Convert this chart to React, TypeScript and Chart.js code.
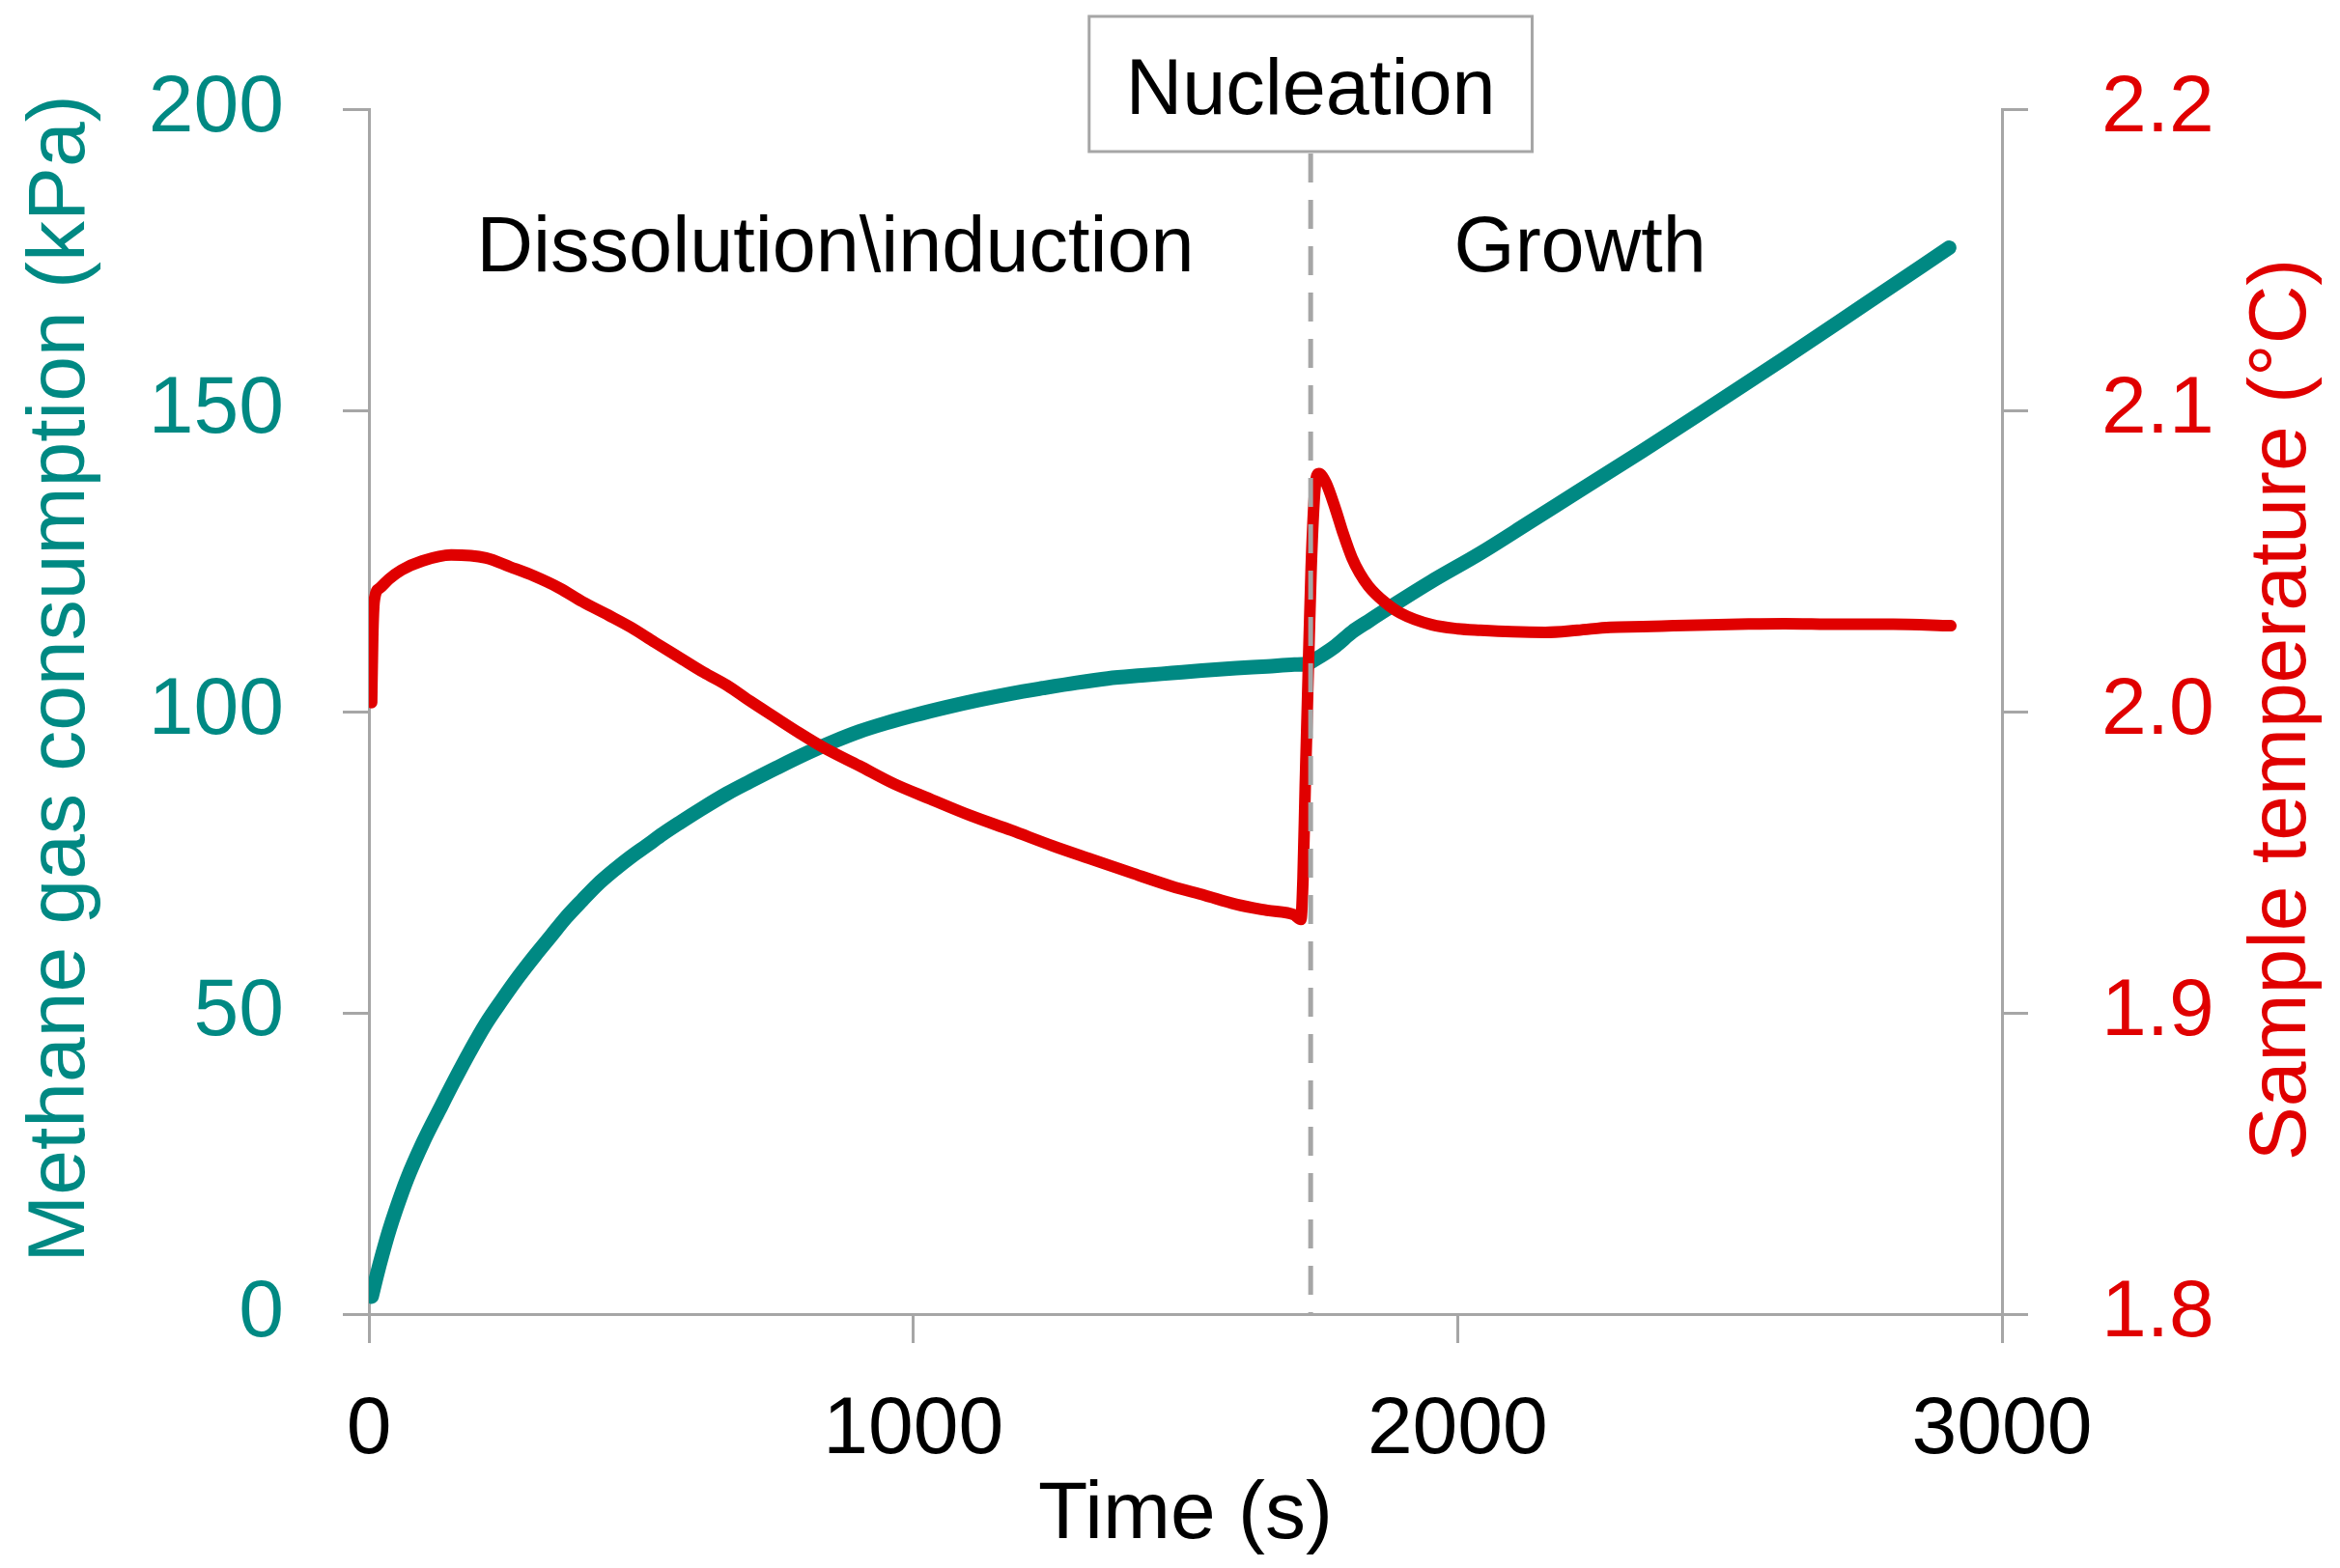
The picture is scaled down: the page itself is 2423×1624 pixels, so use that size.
import React, { useEffect, useRef } from "react";
import { Chart, registerables } from "chart.js";

Chart.register(...registerables);

// ---- Data ----
const gasTime = [5, 15, 25, 37, 50, 70, 100, 130, 156, 185, 215, 245, 275, 305, 334, 362, 392, 420, 452, 480, 511, 540, 570, 610, 658, 700, 750, 807, 850, 901, 950, 1002, 1060, 1119, 1180, 1238, 1300, 1357, 1420, 1475, 1530, 1593, 1650, 1700, 1723, 1735, 1750, 1776, 1806, 1836, 1865, 1950, 2042, 2130, 2219, 2340, 2468, 2600, 2750, 2903];
const gasKPa = [2.9, 6.6, 10.0, 13.8, 17.4, 22.4, 28.6, 34.0, 38.6, 43.5, 48.2, 52.2, 56, 59.5, 62.7, 65.8, 68.7, 71.3, 73.8, 75.8, 77.8, 79.7, 81.5, 83.8, 86.4, 88.4, 90.7, 93.2, 94.9, 96.7, 98.1, 99.4, 100.7, 101.9, 103, 103.9, 104.8, 105.5, 106, 106.4, 106.8, 107.2, 107.5, 107.8, 107.9, 108.5, 109.3, 110.9, 113.2, 115, 116.7, 121.5, 126.3, 131.3, 136.4, 143.3, 150.8, 158.6, 167.7, 177];

const tempTime = [5, 7, 10, 20, 37, 60, 98, 151, 215, 260, 303, 350, 392, 440, 481, 525, 570, 615, 658, 700, 747, 790, 836, 901, 965, 1031, 1105, 1180, 1255, 1327, 1400, 1475, 1535, 1593, 1650, 1700, 1712, 1716, 1720, 1726, 1731, 1738, 1745, 1758, 1776, 1790, 1806, 1820, 1836, 1865, 1895, 1953, 2000, 2042, 2100, 2161, 2220, 2280, 2340, 2397, 2460, 2516, 2600, 2700, 2800, 2906];
const tempC = [2.003, 2.025, 2.037, 2.041, 2.044, 2.047, 2.05, 2.052, 2.051, 2.048, 2.045, 2.041, 2.0365, 2.032, 2.028, 2.023, 2.018, 2.013, 2.0087, 2.0035, 1.998, 1.993, 1.988, 1.982, 1.976, 1.971, 1.9655, 1.9606, 1.9555, 1.951, 1.9465, 1.942, 1.939, 1.936, 1.934, 1.9325, 1.931, 1.945, 1.975, 2.016, 2.048, 2.074, 2.079, 2.076, 2.067, 2.059, 2.051, 2.046, 2.0417, 2.0365, 2.0327, 2.0288, 2.0275, 2.027, 2.0265, 2.0263, 2.027, 2.028, 2.0282, 2.0285, 2.0288, 2.029, 2.0292, 2.029, 2.029, 2.0285];

const xRange = [0, 3000];
const xStep = 1000;
const gasRange = [0, 200];
const gasStep = 50;
const tempRange = [1.8, 2.2];
const tempStep = 0.1;

const phaseLabels = ["Dissolution\\induction", "Growth"];
const phaseLabelTimes = [857, 2225];
const phaseLabelKPa = 177.7;
const nucleationLabel = "Nucleation";
const nucleationTime = 1730;
const nucleationLabelKPa = 203.85;

const leftTitle = "Methane gas consumption (kPa)";
const rightTitle = "Sample temperature (°C)";
const bottomTitle = "Time (s)";

// ---- Styles ----
const TEAL = "#008983";
const RED = "#E00000";
const GRAY = "#A6A6A6";
const FONT = "'Liberation Sans', Arial, sans-serif";
const W = 2423;
const H = 1624;
const PLOT_TOP = 113;
const PLOT_BOTTOM = 1361;
const PLOT_LEFT = 382;
const PLOT_RIGHT = 2073;

export default function App() {
  const ref = useRef<HTMLCanvasElement | null>(null);

  useEffect(() => {
    if (!ref.current) return;
    Chart.defaults.font.family = FONT;

    const overlay = {
      id: "overlay",
      afterDatasetsDraw(chart: any) {
        const ctx = chart.ctx;
        const xs = chart.scales.x;
        const ys = chart.scales.y;
        const area = chart.chartArea;

        ctx.save();
        ctx.font = `81px ${FONT}`;
        const nx = xs.getPixelForValue(nucleationTime);
        const ny = ys.getPixelForValue(nucleationLabelKPa);
        const tw = ctx.measureText(nucleationLabel).width;
        const boxL = nx - tw / 2 - 38;
        const boxR = nx + tw / 2 + 38;
        const boxT = ny - 72;
        const boxB = ny + 68;

        // dashed line
        ctx.strokeStyle = GRAY;
        ctx.lineWidth = 5;
        ctx.setLineDash([30, 18]);
        ctx.beginPath();
        ctx.moveTo(nx, boxB + 2);
        ctx.lineTo(nx, area.bottom);
        ctx.stroke();
        ctx.setLineDash([]);

        ctx.fillStyle = "#ffffff";
        ctx.fillRect(boxL, boxT, boxR - boxL, boxB - boxT);
        ctx.lineWidth = 3;
        ctx.strokeRect(boxL, boxT, boxR - boxL, boxB - boxT);

        ctx.fillStyle = "#000000";
        ctx.textAlign = "center";
        ctx.textBaseline = "alphabetic";
        const cap = 0.716 * 81;
        ctx.fillText(nucleationLabel, nx, ny + cap / 2);

        for (let i = 0; i < phaseLabels.length; i++) {
          const px = xs.getPixelForValue(phaseLabelTimes[i]);
          const py = ys.getPixelForValue(phaseLabelKPa);
          ctx.fillText(phaseLabels[i], px, py + cap / 2);
        }

        // Axis titles
        ctx.font = `84px ${FONT}`;
        ctx.save();
        ctx.translate(87, (area.top + area.bottom) / 2 - 34);
        ctx.rotate(-Math.PI / 2);
        ctx.fillStyle = TEAL;
        ctx.fillText(leftTitle, 0, 0);
        ctx.restore();

        ctx.save();
        ctx.translate(2387, (area.top + area.bottom) / 2 - 2);
        ctx.rotate(-Math.PI / 2);
        ctx.fillStyle = RED;
        ctx.fillText(rightTitle, 0, 0);
        ctx.restore();

        ctx.fillStyle = "#000000";
        ctx.fillText(bottomTitle, (area.left + area.right) / 2, 1593);
        ctx.restore();
      },
    };

    const vFit = (w: number) => (s: any) => {
      s.width = w;
      s.paddingTop = 0;
      s.paddingBottom = 0;
    };

    const chart = new Chart(ref.current, {
      type: "line",
      data: {
        datasets: [
          {
            label: "Temperature",
            data: tempTime.map((t, i) => ({ x: t, y: tempC[i] })),
            yAxisID: "y1",
            borderColor: RED,
            borderWidth: 12,
            pointRadius: 0,
            cubicInterpolationMode: "monotone",
            borderCapStyle: "round",
            borderJoinStyle: "round",
            fill: false,
          },
          {
            label: "Gas consumption",
            data: gasTime.map((t, i) => ({ x: t, y: gasKPa[i] })),
            yAxisID: "y",
            borderColor: TEAL,
            borderWidth: 15,
            pointRadius: 0,
            cubicInterpolationMode: "monotone",
            borderCapStyle: "round",
            borderJoinStyle: "round",
            fill: false,
          },
        ],
      },
      options: {
        animation: false,
        responsive: false,
        devicePixelRatio: 1,
        layout: { padding: { left: 0, right: 0, top: PLOT_TOP, bottom: 0 } },
        plugins: {
          legend: { display: false },
          tooltip: { enabled: false },
          title: { display: false },
        },
        scales: {
          x: {
            type: "linear",
            position: "bottom",
            min: xRange[0],
            max: xRange[1],
            ticks: {
              stepSize: xStep,
              color: "#000000",
              font: { size: 84, family: FONT },
              padding: 40,
              maxRotation: 0,
              autoSkip: false,
              callback: (v: any) => String(v),
            },
            grid: { drawOnChartArea: false, drawTicks: true, tickLength: 30, color: GRAY, lineWidth: 3 },
            border: { color: GRAY, width: 3 },
            afterFit(s: any) {
              s.height = H - PLOT_BOTTOM;
              s.paddingLeft = 0;
              s.paddingRight = 0;
            },
          },
          y: {
            type: "linear",
            position: "left",
            min: gasRange[0],
            max: gasRange[1],
            ticks: {
              stepSize: gasStep,
              color: TEAL,
              font: { size: 84, family: FONT },
              padding: 61,
            },
            grid: { drawOnChartArea: false, drawTicks: true, tickLength: 27, color: GRAY, lineWidth: 3 },
            border: { color: GRAY, width: 3 },
            afterFit: vFit(PLOT_LEFT),
          },
          y1: {
            type: "linear",
            position: "right",
            min: tempRange[0],
            max: tempRange[1],
            ticks: {
              stepSize: tempStep,
              color: RED,
              font: { size: 84, family: FONT },
              padding: 76,
              callback: (v: any) => Number(v).toFixed(1),
            },
            grid: { drawOnChartArea: false, drawTicks: true, tickLength: 27, color: GRAY, lineWidth: 3 },
            border: { color: GRAY, width: 3 },
            afterFit: vFit(W - PLOT_RIGHT),
          },
        },
      },
      plugins: [overlay],
    } as any);

    return () => chart.destroy();
  }, []);

  return (
    <div style={{ position: "fixed", left: 0, top: 0, width: W, height: H, background: "#fff" }}>
      <canvas ref={ref} width={W} height={H} style={{ width: W, height: H, display: "block" }} />
    </div>
  );
}
